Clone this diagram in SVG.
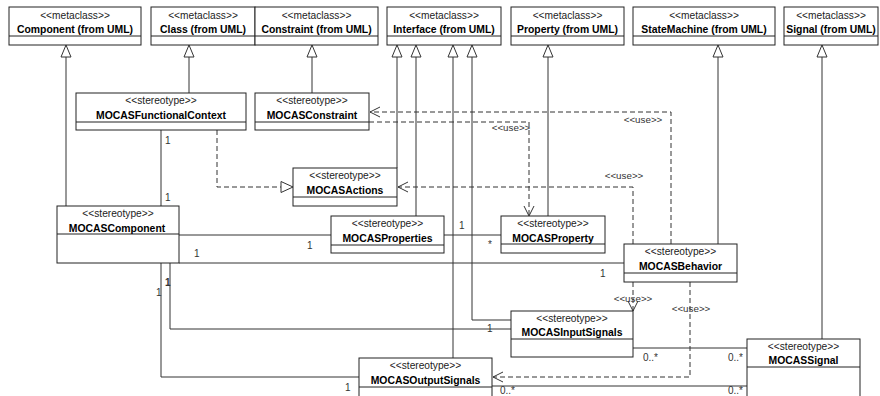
<svg xmlns="http://www.w3.org/2000/svg" width="880" height="396" viewBox="0 0 880 396">
  <style>
    .box { fill: #fff; stroke: #222; stroke-width: 1; }
    .sep { stroke: #222; stroke-width: 1; }
    .st { font-family: "Liberation Sans", Arial, sans-serif; font-size: 10.2px; fill: #222; text-anchor: middle; }
    .nm { font-family: "Liberation Sans", Arial, sans-serif; font-size: 10.4px; font-weight: bold; fill: #000; text-anchor: middle; }
    .ln { fill: none; stroke: #333; stroke-width: 1; }
    .dl { fill: none; stroke: #333; stroke-width: 1; stroke-dasharray: 5 3; }
    .tri { fill: #fff; stroke: #333; stroke-width: 1; }
    .open { fill: none; stroke: #333; stroke-width: 1; }
    .lbl { font-family: "Liberation Sans", Arial, sans-serif; font-size: 10px; fill: #333; }
    .use { font-family: "Liberation Sans", Arial, sans-serif; font-size: 9.8px; fill: #333; text-anchor: middle; }
  </style>
  <rect width="880" height="396" fill="#fff"/>

  <!-- connectors -->
  <g id="connectors">
    <!-- generalizations to metaclasses -->
    <path class="ln" d="M66 57V206"/>
    <path class="ln" d="M189 57V93"/>
    <path class="ln" d="M312 57V93"/>
    <path class="ln" d="M397 57V168"/>
    <path class="ln" d="M416 57V216"/>
    <path class="ln" d="M453 57V358"/>
    <path class="ln" d="M472 57V320H511"/>
    <path class="ln" d="M548 57V216"/>
    <path class="ln" d="M718 57V244"/>
    <path class="ln" d="M822 57V339"/>
    <g>
      <polygon class="tri" points="66,45 61,57 71,57"/>
      <polygon class="tri" points="189,45 184,57 194,57"/>
      <polygon class="tri" points="312,45 307,57 317,57"/>
      <polygon class="tri" points="397,45 392,57 402,57"/>
      <polygon class="tri" points="416,45 411,57 421,57"/>
      <polygon class="tri" points="453,45 448,57 458,57"/>
      <polygon class="tri" points="472,45 467,57 477,57"/>
      <polygon class="tri" points="548,45 543,57 553,57"/>
      <polygon class="tri" points="718,45 713,57 723,57"/>
      <polygon class="tri" points="822,45 817,57 827,57"/>
    </g>

    <!-- associations -->
    <path class="ln" d="M161 130V206"/>
    <path class="ln" d="M179 235H331"/>
    <path class="ln" d="M444 235H501"/>
    <path class="ln" d="M179 263H624"/>
    <path class="ln" d="M170 263V329H511"/>
    <path class="ln" d="M161 263V377H359"/>
    <path class="ln" d="M633 348H747"/>
    <path class="ln" d="M492 386H747"/>

    <!-- realization -->
    <path class="dl" d="M217 130V187H281"/>
    <polygon class="tri" points="293,187 281,181.5 281,192.5"/>

    <!-- dependencies -->
    <path class="dl" d="M671 244V112H370"/>
    <path class="open" d="M380 107L370 112L380 117"/>
    <path class="dl" d="M369 122H529V216"/>
    <path class="open" d="M524 206L529 216L534 206"/>
    <path class="dl" d="M633 244V187H398"/>
    <path class="open" d="M408 182L398 187L408 192"/>
    <path class="dl" d="M633 282V311"/>
    <path class="open" d="M628 301L633 311L638 301"/>
    <path class="dl" d="M690 282V377H493"/>
    <path class="open" d="M503 372L493 377L503 382"/>

    <!-- multiplicities -->
    <text class="lbl" x="165" y="144">1</text>
    <text class="lbl" x="165" y="201">1</text>
    <text class="lbl" x="194" y="257">1</text>
    <text class="lbl" x="307" y="249">1</text>
    <text class="lbl" x="459" y="229">1</text>
    <text class="lbl" x="488" y="248">*</text>
    <text class="lbl" x="600" y="277">1</text>
    <text class="lbl" x="165" y="286" fill="#000" font-weight="bold">1</text>
    <text class="lbl" x="156" y="296">1</text>
    <text class="lbl" x="487" y="332">1</text>
    <text class="lbl" x="345" y="391">1</text>
    <text class="lbl" x="643" y="361">0..*</text>
    <text class="lbl" x="728" y="361">0..*</text>
    <text class="lbl" x="500" y="393.5">0..*</text>
    <text class="lbl" x="728" y="393.5">0..*</text>

    <!-- dependency labels -->
    <text class="use" x="643" y="123">&lt;&lt;use&gt;&gt;</text>
    <text class="use" x="511" y="131">&lt;&lt;use&gt;&gt;</text>
    <text class="use" x="624" y="179">&lt;&lt;use&gt;&gt;</text>
    <text class="use" x="633" y="302">&lt;&lt;use&gt;&gt;</text>
    <text class="use" x="691" y="312">&lt;&lt;use&gt;&gt;</text>
  </g>

  <!-- metaclasses -->
  <g id="Component">
    <rect class="box" x="9" y="7" width="132" height="38"/>
    <line class="sep" x1="9" y1="36" x2="141" y2="36"/>
    <text class="st" x="75" y="18.5">&lt;&lt;metaclass&gt;&gt;</text>
    <text class="nm" x="75" y="33">Component (from UML)</text>
  </g>
  <g id="Class">
    <rect class="box" x="151" y="7" width="104" height="38"/>
    <line class="sep" x1="151" y1="36" x2="255" y2="36"/>
    <text class="st" x="203" y="18.5">&lt;&lt;metaclass&gt;&gt;</text>
    <text class="nm" x="203" y="33">Class (from UML)</text>
  </g>
  <g id="Constraint">
    <rect class="box" x="255" y="7" width="123" height="38"/>
    <line class="sep" x1="255" y1="36" x2="378" y2="36"/>
    <text class="st" x="316.5" y="18.5">&lt;&lt;metaclass&gt;&gt;</text>
    <text class="nm" x="316.5" y="33">Constraint (from UML)</text>
  </g>
  <g id="Interface">
    <rect class="box" x="387" y="7" width="114" height="38"/>
    <line class="sep" x1="387" y1="36" x2="501" y2="36"/>
    <text class="st" x="444" y="18.5">&lt;&lt;metaclass&gt;&gt;</text>
    <text class="nm" x="444" y="33">Interface (from UML)</text>
  </g>
  <g id="Property">
    <rect class="box" x="511" y="7" width="113" height="38"/>
    <line class="sep" x1="511" y1="36" x2="624" y2="36"/>
    <text class="st" x="567.5" y="18.5">&lt;&lt;metaclass&gt;&gt;</text>
    <text class="nm" x="567.5" y="33">Property (from UML)</text>
  </g>
  <g id="StateMachine">
    <rect class="box" x="633" y="7" width="142" height="38"/>
    <line class="sep" x1="633" y1="36" x2="775" y2="36"/>
    <text class="st" x="704" y="18.5">&lt;&lt;metaclass&gt;&gt;</text>
    <text class="nm" x="704" y="33">StateMachine (from UML)</text>
  </g>
  <g id="Signal">
    <rect class="box" x="784" y="7" width="94" height="38"/>
    <line class="sep" x1="784" y1="36" x2="878" y2="36"/>
    <text class="st" x="831" y="18.5">&lt;&lt;metaclass&gt;&gt;</text>
    <text class="nm" x="831" y="33">Signal (from UML)</text>
  </g>

  <!-- stereotypes -->
  <g id="MOCASFunctionalContext">
    <rect class="box" x="76" y="93" width="170" height="37"/>
    <line class="sep" x1="76" y1="122" x2="246" y2="122"/>
    <text class="st" x="161" y="104">&lt;&lt;stereotype&gt;&gt;</text>
    <text class="nm" x="161" y="119">MOCASFunctionalContext</text>
  </g>
  <g id="MOCASConstraint">
    <rect class="box" x="255" y="93" width="114" height="37"/>
    <line class="sep" x1="255" y1="122" x2="369" y2="122"/>
    <text class="st" x="312" y="104">&lt;&lt;stereotype&gt;&gt;</text>
    <text class="nm" x="312" y="119">MOCASConstraint</text>
  </g>
  <g id="MOCASActions">
    <rect class="box" x="293" y="168" width="104" height="38"/>
    <line class="sep" x1="293" y1="197" x2="397" y2="197"/>
    <text class="st" x="345" y="179">&lt;&lt;stereotype&gt;&gt;</text>
    <text class="nm" x="345" y="194">MOCASActions</text>
  </g>
  <g id="MOCASComponent">
    <rect class="box" x="57" y="206" width="122" height="57"/>
    <line class="sep" x1="57" y1="234" x2="179" y2="234"/>
    <text class="st" x="118" y="217">&lt;&lt;stereotype&gt;&gt;</text>
    <text class="nm" x="117" y="232">MOCASComponent</text>
  </g>
  <g id="MOCASProperties">
    <rect class="box" x="331" y="216" width="113" height="37"/>
    <line class="sep" x1="331" y1="245" x2="444" y2="245"/>
    <text class="st" x="387.5" y="227">&lt;&lt;stereotype&gt;&gt;</text>
    <text class="nm" x="387.5" y="242">MOCASProperties</text>
  </g>
  <g id="MOCASProperty">
    <rect class="box" x="501" y="216" width="104" height="37"/>
    <line class="sep" x1="501" y1="244" x2="605" y2="244"/>
    <text class="st" x="553" y="227">&lt;&lt;stereotype&gt;&gt;</text>
    <text class="nm" x="553" y="242">MOCASProperty</text>
  </g>
  <g id="MOCASBehavior">
    <rect class="box" x="624" y="244" width="113" height="38"/>
    <line class="sep" x1="624" y1="273" x2="737" y2="273"/>
    <text class="st" x="680.5" y="255">&lt;&lt;stereotype&gt;&gt;</text>
    <text class="nm" x="680.5" y="270">MOCASBehavior</text>
  </g>
  <g id="MOCASInputSignals">
    <rect class="box" x="511" y="311" width="122" height="46"/>
    <line class="sep" x1="511" y1="339" x2="633" y2="339"/>
    <text class="st" x="572" y="322">&lt;&lt;stereotype&gt;&gt;</text>
    <text class="nm" x="572" y="336">MOCASInputSignals</text>
  </g>
  <g id="MOCASOutputSignals">
    <rect class="box" x="359" y="358" width="133" height="46"/>
    <line class="sep" x1="359" y1="387" x2="492" y2="387"/>
    <text class="st" x="425.5" y="369">&lt;&lt;stereotype&gt;&gt;</text>
    <text class="nm" x="425.5" y="384">MOCASOutputSignals</text>
  </g>
  <g id="MOCASSignal">
    <rect class="box" x="747" y="339" width="113" height="65"/>
    <line class="sep" x1="747" y1="367" x2="860" y2="367"/>
    <text class="st" x="803.5" y="350">&lt;&lt;stereotype&gt;&gt;</text>
    <text class="nm" x="803.5" y="364">MOCASSignal</text>
  </g>
</svg>
